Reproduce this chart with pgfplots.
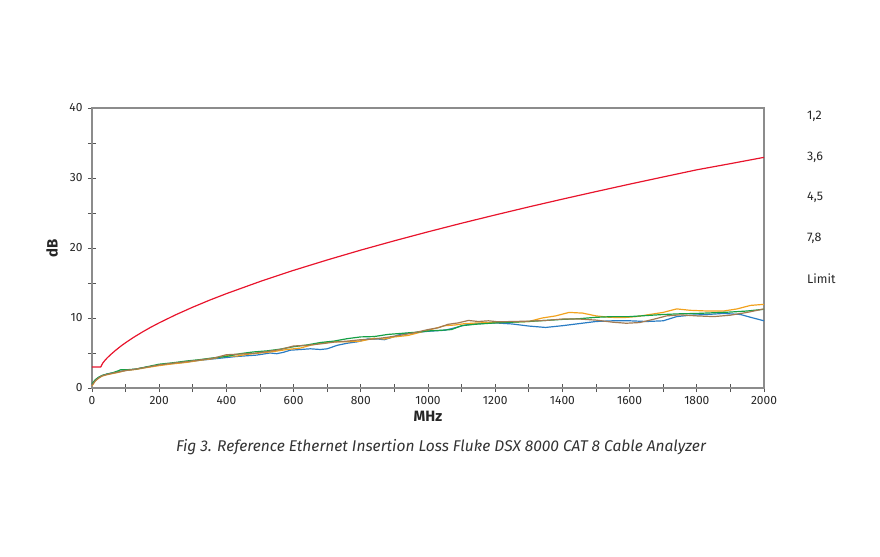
\documentclass[border=0pt]{standalone}
\usepackage{pgfplots}
\pgfplotsset{compat=1.18}
\usepackage{fontspec}
\setmainfont{Fira Sans}
\definecolor{axgray}{HTML}{8C8C8C}
\definecolor{tickgray}{HTML}{555555}
\definecolor{cblue}{HTML}{2A7CC4}
\definecolor{corange}{HTML}{F2A21E}
\definecolor{cgreen}{HTML}{16A046}
\definecolor{cbrown}{HTML}{A27A52}
\definecolor{cred}{HTML}{E8142C}
\begin{document}
\begin{tikzpicture}
\begin{axis}[
  scale only axis,
  width=672bp, height=280bp,
  xmin=0, xmax=2000, ymin=0, ymax=40,
  xtick={0,200,...,2000},
  minor xtick={100,300,...,1900},
  ytick={0,10,...,40},
  minor ytick={5,15,25,35},
  tick align=center,
  major tick length=8bp, minor tick length=8bp,
  tick style={tickgray, line width=0.8pt},
  xtick pos=bottom, ytick pos=left,
  axis line style={axgray, line width=1.6pt},
  tick label style={font=\fontsize{12}{14}\selectfont, text=black!85},
  /pgf/number format/assume math mode=true,
  /pgf/number format/1000 sep={},
  scaled x ticks=false,
  xticklabel style={yshift=-1bp},
  yticklabel style={xshift=-2bp},
  every axis plot/.append style={line width=1.2pt, line join=round},
  clip=false,
]
\addplot[cblue] coordinates {
(0,0.5)(10,1.1)(20,1.5)(30,1.75)(45,2.0)(60,2.15)(80,2.35)(100,2.5)(130,2.7)(160,2.95)(200,3.3)(240,3.5)(280,3.7)(320,3.95)(360,4.15)(400,4.35)(430,4.5)(460,4.6)(490,4.7)(510,4.85)(530,5.0)(550,4.9)(570,5.1)(590,5.4)(620,5.5)(650,5.6)(680,5.5)(700,5.6)(730,6.1)(760,6.4)(790,6.6)(820,7.0)(850,7.0)(870,6.9)(890,7.2)(920,7.7)(960,7.9)(1000,8.1)(1050,8.25)(1080,8.6)(1110,9.0)(1150,9.2)(1200,9.3)(1250,9.15)(1300,8.85)(1350,8.65)(1400,8.9)(1450,9.2)(1500,9.5)(1550,9.6)(1600,9.6)(1650,9.5)(1700,9.6)(1740,10.2)(1780,10.4)(1830,10.5)(1880,10.65)(1930,10.5)(1960,10.1)(2000,9.6)
};
\addplot[corange] coordinates {
(0,0.3)(10,1.0)(20,1.4)(30,1.7)(45,1.9)(60,2.05)(80,2.25)(100,2.5)(130,2.65)(160,2.9)(200,3.2)(240,3.45)(280,3.65)(320,3.95)(360,4.2)(400,4.6)(430,4.55)(460,4.8)(500,5.0)(540,5.2)(580,5.5)(620,5.7)(650,6.1)(680,6.4)(720,6.6)(760,6.6)(800,6.7)(840,7.1)(870,7.0)(900,7.3)(940,7.5)(980,8.0)(1020,8.5)(1050,8.9)(1080,9.0)(1110,9.2)(1150,9.3)(1200,9.35)(1250,9.4)(1300,9.5)(1340,10.0)(1380,10.3)(1420,10.8)(1460,10.7)(1500,10.3)(1540,10.1)(1580,10.05)(1620,10.2)(1660,10.5)(1700,10.8)(1740,11.3)(1780,11.1)(1830,11.0)(1880,11.0)(1920,11.3)(1960,11.8)(2000,11.95)
};
\addplot[cgreen] coordinates {
(0,0.6)(10,1.2)(20,1.55)(30,1.8)(45,2.0)(60,2.15)(75,2.4)(85,2.6)(100,2.6)(130,2.7)(160,3.0)(200,3.4)(240,3.6)(280,3.85)(320,4.05)(360,4.3)(400,4.5)(440,4.9)(480,5.15)(520,5.3)(560,5.55)(600,5.9)(640,6.15)(680,6.5)(720,6.7)(760,7.05)(800,7.3)(840,7.35)(880,7.65)(920,7.8)(960,7.95)(1000,8.15)(1040,8.25)(1070,8.35)(1100,8.9)(1140,9.1)(1200,9.3)(1250,9.4)(1300,9.5)(1350,9.65)(1400,9.8)(1450,9.9)(1500,10.1)(1550,10.2)(1600,10.2)(1650,10.35)(1700,10.5)(1750,10.6)(1800,10.65)(1850,10.75)(1900,10.85)(1950,11.0)(2000,11.25)
};
\addplot[cbrown] coordinates {
(0,0.4)(10,1.05)(20,1.45)(30,1.75)(45,1.95)(60,2.1)(80,2.3)(100,2.5)(130,2.7)(160,2.95)(200,3.3)(240,3.55)(280,3.75)(320,4.0)(360,4.25)(400,4.75)(440,4.85)(480,4.95)(520,5.2)(560,5.5)(600,6.0)(640,6.1)(680,6.3)(720,6.55)(760,6.7)(800,6.9)(840,7.0)(880,7.25)(920,7.55)(960,7.9)(1000,8.35)(1030,8.6)(1060,9.1)(1090,9.3)(1120,9.65)(1150,9.5)(1180,9.6)(1210,9.45)(1250,9.5)(1300,9.55)(1350,9.65)(1400,9.85)(1450,9.85)(1500,9.7)(1550,9.4)(1590,9.25)(1630,9.35)(1670,9.8)(1710,10.3)(1750,10.45)(1800,10.3)(1850,10.2)(1900,10.4)(1950,10.8)(2000,11.3)
};
\addplot[cred] coordinates {
(0,3.0)(26,3.0)(28,3.2)(32,3.55)(36,3.8)(40,4.03)(45,4.29)(50,4.52)(55,4.75)(60,4.96)(70,5.37)(80,5.76)(90,6.13)(100,6.47)(125,7.27)(150,8.0)(175,8.68)(200,9.31)(250,10.48)(300,11.55)(350,12.55)(400,13.48)(500,15.21)(600,16.81)(700,18.29)(800,19.7)(900,21.03)(1000,22.31)(1100,23.54)(1200,24.72)(1300,25.87)(1400,26.98)(1500,28.06)(1600,29.12)(1700,30.15)(1800,31.17)(1900,32.05)(2000,32.95)
};
\end{axis}
\path[use as bounding box] (-92bp,-169bp) rectangle (788bp,388bp);
\begin{scope}[every node/.style={font=\fontsize{12.5}{14}\selectfont, text=black!85, anchor=west, inner sep=0pt}]
\node at (715bp,272bp) {1,2};
\node at (715bp,231bp) {3,6};
\node at (715bp,191bp) {4,5};
\node at (715bp,150bp) {7,8};
\node at (715bp,109bp) {Limit};
\end{scope}
\node[font=\fontsize{15}{17}\selectfont\bfseries, text=black!85, inner sep=0pt] at (336bp,-28bp) {MHz};
\node[font=\fontsize{15}{17}\selectfont\bfseries, text=black!85, inner sep=0pt, rotate=90] at (-40bp,140bp) {dB};
\node[font=\fontsize{15.6}{17}\selectfont\itshape, text=black!80, inner sep=0pt] at (349bp,-59bp) {Fig 3. Reference Ethernet Insertion Loss Fluke DSX 8000 CAT 8 Cable Analyzer};
\end{tikzpicture}
\end{document}
